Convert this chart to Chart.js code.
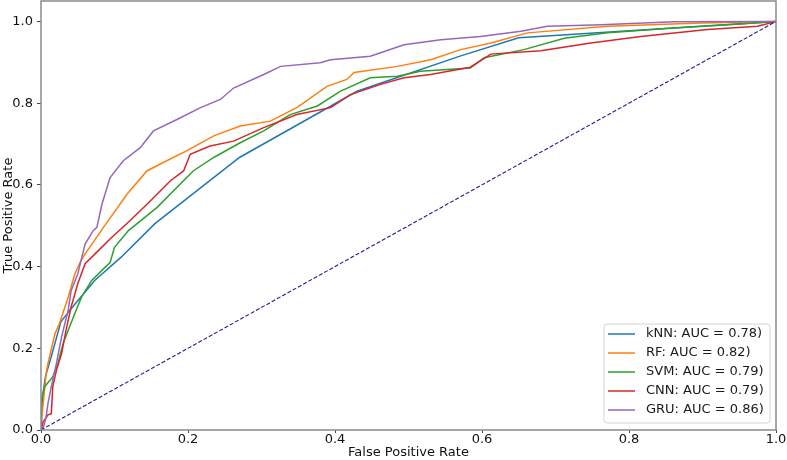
<!DOCTYPE html>
<html>
<head>
<meta charset="utf-8">
<script src="https://cdn.jsdelivr.net/npm/chart.js@4.4.1/dist/chart.umd.min.js"></script>
<style>
    html, body { margin: 0; padding: 0; background: #fff; }
    canvas { display: block; }
</style>
</head>
<body>
<canvas id="roc" width="787" height="460"></canvas>
<script>
// ROC curves
let knnFpr = [0, 0.002, 0.006, 0.014, 0.027, 0.041, 0.073, 0.109, 0.155, 0.27, 0.43, 0.57, 0.65, 1];
let knnTpr = [0, 0.08, 0.13, 0.18, 0.265, 0.297, 0.366, 0.423, 0.505, 0.667, 0.829, 0.915, 0.96, 1];

let rfFpr = [0, 0.001, 0.003, 0.007, 0.0095, 0.019, 0.025, 0.037, 0.046, 0.053, 0.06, 0.085, 0.117, 0.144, 0.171, 0.198, 0.235, 0.271, 0.312, 0.348, 0.389, 0.416, 0.426, 0.485, 0.53, 0.571, 0.612, 0.662, 0.771, 0.898, 1];
let rfTpr = [0, 0.03, 0.065, 0.138, 0.163, 0.236, 0.26, 0.325, 0.382, 0.41, 0.431, 0.496, 0.577, 0.634, 0.659, 0.683, 0.72, 0.744, 0.756, 0.789, 0.841, 0.858, 0.875, 0.89, 0.906, 0.931, 0.947, 0.972, 0.988, 0.996, 1];

let svmFpr = [0, 0, 0.005, 0.016, 0.023, 0.03, 0.037, 0.046, 0.055, 0.069, 0.087, 0.094, 0.1, 0.119, 0.158, 0.207, 0.235, 0.271, 0.303, 0.339, 0.376, 0.407, 0.448, 0.485, 0.516, 0.584, 0.603, 0.657, 0.712, 0.771, 0.861, 0.952, 1];
let svmTpr = [0, 0.07, 0.106, 0.13, 0.163, 0.211, 0.244, 0.285, 0.325, 0.366, 0.398, 0.41, 0.447, 0.488, 0.545, 0.634, 0.667, 0.703, 0.732, 0.772, 0.793, 0.829, 0.862, 0.866, 0.878, 0.886, 0.911, 0.931, 0.959, 0.972, 0.984, 0.994, 1];

let cnnFpr = [0, 0.003, 0.0095, 0.014, 0.016, 0.021, 0.028, 0.034, 0.041, 0.05, 0.06, 0.078, 0.096, 0.121, 0.149, 0.176, 0.194, 0.203, 0.23, 0.262, 0.303, 0.348, 0.394, 0.421, 0.462, 0.494, 0.53, 0.584, 0.612, 0.68, 0.748, 0.816, 0.907, 0.975, 1];
let cnnTpr = [0, 0.02, 0.037, 0.04, 0.106, 0.146, 0.187, 0.244, 0.301, 0.358, 0.407, 0.439, 0.471, 0.512, 0.561, 0.61, 0.634, 0.675, 0.695, 0.707, 0.74, 0.772, 0.789, 0.821, 0.846, 0.862, 0.87, 0.888, 0.92, 0.928, 0.947, 0.963, 0.98, 0.988, 1];

let gruFpr = [0, 0.004, 0.007, 0.0095, 0.014, 0.021, 0.028, 0.037, 0.041, 0.05, 0.06, 0.071, 0.076, 0.083, 0.094, 0.112, 0.135, 0.153, 0.185, 0.217, 0.244, 0.262, 0.303, 0.326, 0.38, 0.394, 0.448, 0.494, 0.544, 0.598, 0.653, 0.689, 0.762, 0.861, 1];
let gruTpr = [0, 0.01, 0.033, 0.065, 0.106, 0.163, 0.228, 0.293, 0.341, 0.382, 0.455, 0.488, 0.496, 0.553, 0.618, 0.659, 0.691, 0.732, 0.76, 0.789, 0.809, 0.837, 0.87, 0.89, 0.899, 0.906, 0.915, 0.943, 0.955, 0.963, 0.976, 0.988, 0.992, 0.999, 1];

let chanceFpr = [0, 1];
let chanceTpr = [0, 1];

let seriesNames = ["kNN: AUC = 0.78)", "RF: AUC = 0.82)", "SVM: AUC = 0.79)", "CNN: AUC = 0.79)", "GRU: AUC = 0.86)"];
let seriesColors = ["#1f77b4", "#ff7f0e", "#2ca02c", "#d62728", "#9467bd"];
let tickValues = [0, 0.2, 0.4, 0.6, 0.8, 1.0];

const FONT = "'DejaVu Sans', sans-serif";

function points(xs, ys) {
    return xs.map((x, i)=> ({x: x, y: ys[i]}));
}

let curves = [
    points(knnFpr, knnTpr),
    points(rfFpr, rfTpr),
    points(svmFpr, svmTpr),
    points(cnnFpr, cnnTpr),
    points(gruFpr, gruTpr)
];

let datasets = curves.map((d, i)=> ({
    label: seriesNames[i],
    data: d,
    borderColor: seriesColors[i],
    borderWidth: 1.5,
    pointRadius: 0,
    tension: 0,
    order: 10 - i
}));
datasets.push({
    label: "chance",
    data: points(chanceFpr, chanceTpr),
    borderColor: "#1c1c96",
    borderWidth: 1.1,
    borderDash: [4, 2],
    pointRadius: 0,
    order: 0
});

// frame round the plot + legend in the lower right corner
const framePlugin = {
    id: "frame",
    afterDatasetsDraw(chart) {
        const {ctx, chartArea: a} = chart;
        ctx.save();
        ctx.strokeStyle = "#8a8a8a";
        ctx.lineWidth = 1.5;
        ctx.strokeRect(a.left, a.top, a.right - a.left, a.bottom - a.top);

        let x0 = 604, y0 = 324, w = 166, h = 99;
        ctx.beginPath();
        ctx.roundRect(x0, y0, w, h, 3);
        ctx.fillStyle = "rgba(255,255,255,0.85)";
        ctx.fill();
        ctx.strokeStyle = "#d4d4d4";
        ctx.lineWidth = 1;
        ctx.stroke();

        ctx.font = "13px " + FONT;
        ctx.textBaseline = "middle";
        ctx.textAlign = "left";
        for(let i = 0; i < seriesNames.length; i++) {
            let y = 334 + i * 19;
            ctx.strokeStyle = seriesColors[i];
            ctx.lineWidth = 1.5;
            ctx.beginPath();
            ctx.moveTo(608, y);
            ctx.lineTo(635, y);
            ctx.stroke();
            ctx.fillStyle = "#1a1a1a";
            ctx.fillText(seriesNames[i], 646, y);
        }
        ctx.restore();
    }
};

function setTicks(scale) {
    scale.ticks = tickValues.map(v=> ({value: v}));
}

window.onload = ()=> {
    new Chart("roc", {
        type: "line",
        data: {datasets: datasets},
        plugins: [framePlugin],
        options: {
            responsive: false,
            animation: false,
            devicePixelRatio: 1,
            layout: {padding: {top: 1, right: 11, left: 0, bottom: 0}},
            plugins: {
                legend: {display: false},
                tooltip: {enabled: false}
            },
            scales: {
                x: {
                    type: "linear",
                    min: 0,
                    max: 1,
                    afterBuildTicks: setTicks,
                    afterFit: (s)=> {
                        s.height = 30;
                        s.paddingLeft = 0;
                        s.paddingRight = 0;
                    },
                    grid: {drawOnChartArea: false, tickLength: 3, color: "#444"},
                    border: {display: false},
                    ticks: {
                        padding: -1,
                        color: "#111",
                        font: {family: FONT, size: 13},
                        maxRotation: 0,
                        callback: (v)=> v.toFixed(1)
                    },
                    title: {
                        display: true,
                        text: "False Positive Rate",
                        color: "#111",
                        font: {family: FONT, size: 13, lineHeight: 1.1},
                        padding: {top: 0, bottom: 0}
                    }
                },
                y: {
                    type: "linear",
                    min: 0,
                    max: 1.05,
                    afterBuildTicks: setTicks,
                    afterFit: (s)=> {
                        s.width = 41;
                        s.paddingTop = 0;
                        s.paddingBottom = 0;
                    },
                    grid: {drawOnChartArea: false, tickLength: 4, color: "#444"},
                    border: {display: false},
                    ticks: {
                        padding: 4,
                        color: "#111",
                        font: {family: FONT, size: 13},
                        callback: (v)=> v.toFixed(1)
                    },
                    title: {
                        display: true,
                        text: "True Positive Rate",
                        color: "#111",
                        font: {family: FONT, size: 13, lineHeight: 1.1},
                        padding: {top: 1, bottom: 0}
                    }
                }
            }
        }
    });
};
</script>
</body>
</html>
